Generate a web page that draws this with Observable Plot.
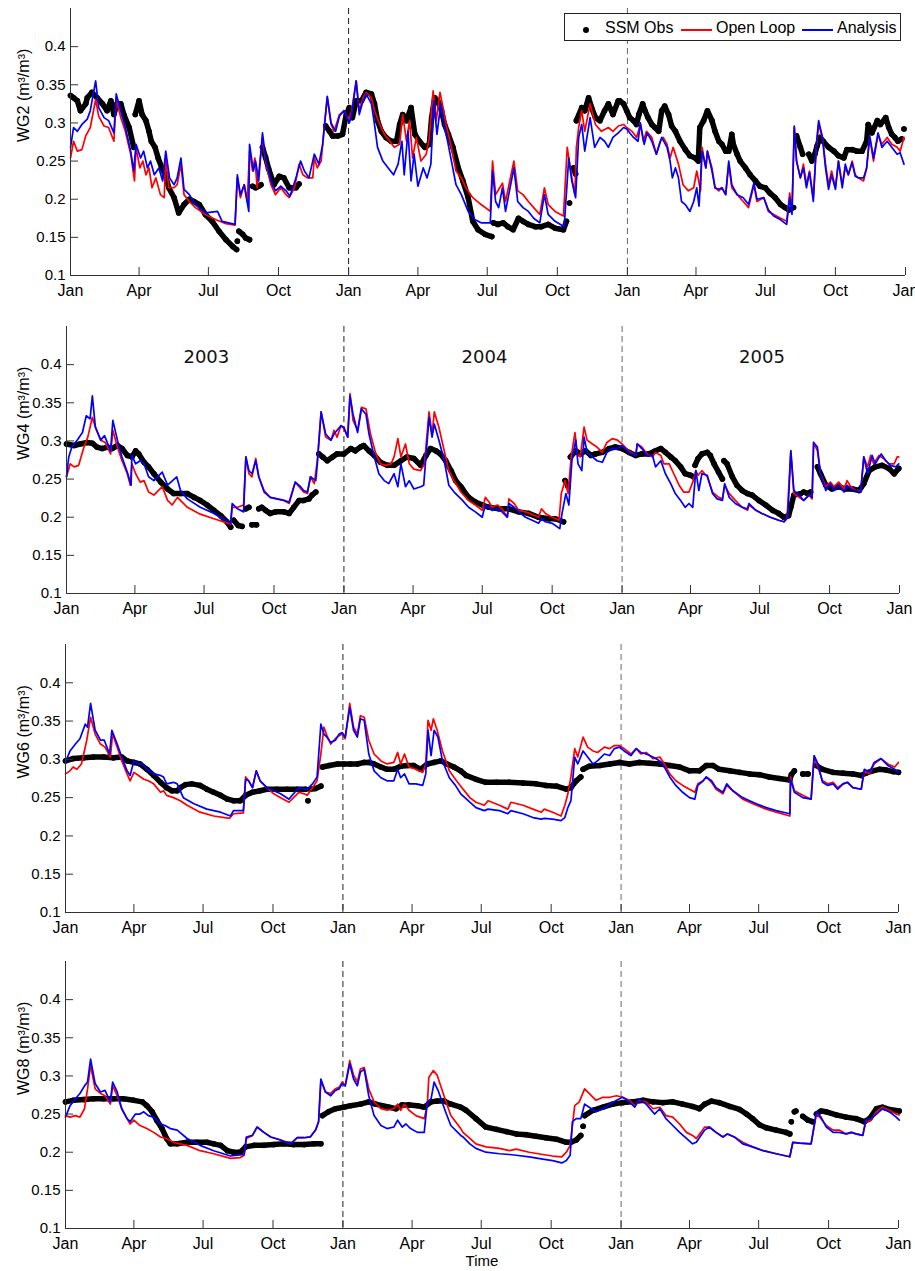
<!DOCTYPE html>
<html><head><meta charset="utf-8">
<script src="https://cdn.jsdelivr.net/npm/d3@7"></script>
<script src="https://cdn.jsdelivr.net/npm/@observablehq/plot@0.6"></script>
<style>
html,body{margin:0;padding:0;background:#fff}
body{width:915px;height:1271px;position:relative;overflow:hidden;font-family:"Liberation Sans",Arial,Helvetica,sans-serif}
.panel{position:absolute;left:0}
#legend{position:absolute;left:564px;top:13px;width:335px;height:26px;border:1px solid #222;background:#fff;font-size:16px;color:#000}
#legend .t{position:absolute;top:4px;line-height:20px;white-space:nowrap}
#legend .ln{position:absolute;top:15px;width:31px;height:2px}
#legend .dt{position:absolute;left:18px;top:13px;width:6px;height:6px;border-radius:3px;background:#000}
</style></head><body>
<div id="p1" class="panel" style="top:0px"></div>
<div id="p2" class="panel" style="top:300px"></div>
<div id="p3" class="panel" style="top:620px"></div>
<div id="p4" class="panel" style="top:945px"></div>
<div id="legend"></div>
<script>
// ---------- data: [day since 2003-01-01, volumetric soil moisture] ; null = gap ----------
const seriesNames = ["SSM Obs", "Open Loop", "Analysis"];
const seriesColors = ["#000000", "#ff0000", "#0000ff"];
const yearNames = ["2003", "2004", "2005"];
const yTickValues = [0.1, 0.15, 0.2, 0.25, 0.3, 0.35, 0.4];
const panelLabels = ["WG2 (m³/m³)", "WG4 (m³/m³)", "WG6 (m³/m³)", "WG8 (m³/m³)"];

const wg2Obs = [[0,0.336],[4,0.333],[9,0.329],[13,0.316],[20,0.325],[22,0.333],[28,0.340],[35,0.333],[42,0.325],[48,0.316],[53,0.329],[57,0.311],[61,0.325],[66,0.325],[70,0.311],[77,0.294],[83,0.268],[84,null],[85,0.311],[90,0.329],[94,0.311],[99,0.303],[103,0.289],[106,0.276],[111,0.268],[115,0.254],[120,0.241],[125,0.230],[129,0.215],[136,0.202],[142,0.182],[149,0.193],[156,0.200],[162,0.197],[169,0.193],[177,0.180],[186,0.171],[195,0.158],[204,0.147],[213,0.138],[218,0.134],[218.5,null],[219,0.145],[220,null],[221,0.158],[226,0.154],[230,0.149],[235,0.147],[237,null],[239,0.217],[243,0.215],[247,0.217],[250,0.219],[251,null],[252,0.268],[256,0.255],[260,0.240],[267,0.219],[274,0.230],[280,0.228],[287,0.215],[296,0.215],[300,0.220],[310,null],[335,0.296],[340,0.289],[344,0.283],[351,0.283],[357,0.285],[362,0.311],[366,0.320],[370,0.307],
[375,0.329],[382,0.329],[388,0.340],[395,0.338],[399,0.325],[403,0.303],[408,0.289],[414,0.281],[421,0.276],[428,0.276],[432,0.298],[436,0.311],[441,0.303],[447,0.320],[452,0.285],[458,0.276],[465,0.268],[471,0.272],[474,0.307],[478,0.333],[482,0.329],[487,0.316],[491,0.298],[496,0.285],[502,0.268],[509,0.241],[515,0.224],[522,0.202],[528,0.171],[535,0.160],[544,0.154],[553,0.151],[554,null],[555,0.169],[561,0.167],[568,0.169],[574,0.164],[581,0.160],[588,0.175],[594,0.171],[601,0.167],[610,0.164],[618,0.164],[627,0.167],[636,0.162],[647,0.160],[651,0.171],[653,null],[655,0.195],[657,null],[660,0.241],[663,0.233],[663.5,null],[664,0.303],[671,0.320],[675,0.316],[680,0.333],[684,0.320],[689,0.307],[695,0.303],[701,0.316],[706,0.325],[712,0.311],[719,0.329],
[721,0.329],[726,0.325],[730,0.316],[734,0.307],[739,0.303],[743,0.298],[746,0.311],[751,0.325],[754,0.316],[758,0.307],[763,0.298],[767,0.294],[772,0.289],[776,0.316],[780,0.322],[785,0.311],[789,0.296],[794,0.289],[800,0.276],[807,0.265],[813,0.257],[820,0.254],[824,0.250],[826,0.294],[831,0.303],[836,0.316],[842,0.303],[846,0.289],[851,0.276],[855,0.272],[860,0.263],[864,0.263],[868,0.285],[870,0.272],[875,0.259],[879,0.250],[886,0.241],[892,0.232],[899,0.224],[905,0.217],[912,0.215],[918,0.208],[925,0.202],[932,0.193],[938,0.189],[943,0.186],[949,0.189],[951,null],[953,0.283],[958,0.268],[961,0.259],[965,null],[969,0.259],[973,0.250],[977,0.259],[980,0.270],[984,0.281],[988,0.276],[995,0.268],[1002,0.263],[1008,0.257],[1015,0.254],[1019,0.265],[1026,0.265],[1032,0.263],[1039,0.263],[1045,0.276],[1047,0.298],[1052,0.287],[1059,0.303],[1063,0.298],[1070,0.307],[1074,0.294],[1078,0.285],[1082,0.281],[1086,0.276],[1091,0.279],[1092,null],[1094,0.292]];

const wg2Open = [[0,0.254],[4,0.276],[9,0.263],[15,0.265],[20,0.283],[26,0.294],[33,0.331],[37,0.309],[44,0.296],[50,0.294],[57,0.276],[60,0.331],[66,0.307],[72,0.289],[79,0.259],[84,0.224],[86,0.268],[91,0.241],[95,0.250],[99,0.232],[103,0.241],[107,0.215],[112,0.228],[118,0.206],[123,0.202],[125,0.254],[129,0.215],[136,0.215],[140,0.219],[145,0.246],[149,0.206],[156,0.197],[164,0.189],[177,0.180],[191,0.173],[204,0.168],[216,0.166],[219,0.228],[223,0.202],[228,0.219],[232,0.197],[235,0.263],[239,0.237],[242,0.254],[245,0.215],[252,0.281],[256,0.250],[263,0.219],[269,0.206],[276,0.215],[283,0.206],[287,0.202],[294,0.215],[300,0.246],[305,0.232],[311,0.228],[318,0.228],[320,0.254],[324,0.241],[329,0.250],[333,0.294],[337,0.333],[342,0.298],[346,0.289],[353,0.311],[359,0.316],[365,0.303],
[369,0.316],[375,0.355],[379,0.316],[384,0.333],[388,0.340],[395,0.333],[399,0.316],[406,0.298],[412,0.285],[419,0.276],[425,0.268],[432,0.272],[436,0.311],[441,0.276],[445,0.303],[449,0.254],[454,0.281],[460,0.250],[467,0.259],[471,0.281],[476,0.342],[480,0.303],[485,0.340],[489,0.320],[493,0.298],[500,0.268],[506,0.237],[513,0.228],[519,0.215],[528,0.202],[539,0.193],[551,0.184],[554,0.250],[558,0.206],[567,0.221],[571,0.197],[582,0.250],[587,0.211],[594,0.206],[601,0.197],[608,0.189],[616,0.180],[622,0.215],[627,0.193],[636,0.184],[647,0.178],[652,0.268],[658,0.228],[662,0.206],[664,0.268],[667,0.294],[671,0.316],[675,0.289],[682,0.325],[689,0.298],[697,0.289],[706,0.294],[712,0.289],[719,0.296],[726,0.298],
[730,0.294],[737,0.289],[743,0.281],[748,0.298],[752,0.276],[756,0.289],[763,0.281],[769,0.259],[774,0.276],[778,0.281],[783,0.272],[787,0.254],[791,0.268],[798,0.246],[804,0.219],[811,0.211],[818,0.215],[822,0.237],[827,0.211],[829,0.268],[834,0.241],[836,0.263],[842,0.241],[846,0.215],[851,0.211],[855,0.215],[860,0.206],[864,0.246],[868,0.215],[875,0.206],[883,0.197],[890,0.189],[897,0.219],[901,0.197],[910,0.202],[916,0.184],[923,0.180],[932,0.175],[940,0.171],[944,0.208],[947,0.184],[950,0.294],[953,0.250],[958,0.228],[962,0.246],[966,0.219],[970,0.237],[975,0.202],[979,0.268],[982,0.298],[987,0.281],[991,0.246],[995,0.219],[999,0.237],[1004,0.215],[1008,0.250],[1013,0.219],[1017,0.241],[1021,0.232],[1026,0.250],[1030,0.232],[1034,0.228],[1041,0.224],[1045,0.241],[1049,0.281],[1054,0.250],[1060,0.285],[1065,0.272],[1072,0.281],[1078,0.272],[1085,0.268],[1089,0.263],[1094,0.281]];

const wg2Ana = [[0,0.268],[4,0.294],[9,0.289],[15,0.298],[22,0.305],[26,0.316],[33,0.355],[37,0.320],[44,0.307],[50,0.303],[57,0.287],[60,0.338],[66,0.316],[72,0.294],[79,0.263],[83,0.237],[86,0.272],[92,0.254],[96,0.263],[101,0.241],[105,0.250],[110,0.232],[116,0.241],[121,0.224],[125,0.263],[130,0.228],[136,0.219],[140,0.228],[145,0.254],[149,0.213],[156,0.206],[164,0.193],[177,0.182],[193,0.184],[199,0.171],[216,0.167],[219,0.232],[223,0.206],[228,0.219],[234,0.184],[235,0.272],[240,0.237],[243,0.250],[247,0.224],[252,0.287],[256,0.254],[263,0.224],[269,0.211],[276,0.217],[283,0.211],[288,0.204],[296,0.228],[302,0.250],[307,0.237],[313,0.228],[320,0.259],[326,0.246],[331,0.272],[337,0.335],[342,0.300],[348,0.289],[353,0.309],[359,0.316],[366,0.300],
[369,0.311],[375,0.355],[379,0.311],[384,0.329],[388,0.338],[395,0.325],[399,0.298],[403,0.268],[410,0.250],[417,0.241],[424,0.232],[430,0.246],[435,0.276],[438,0.232],[443,0.289],[447,0.224],[451,0.259],[456,0.217],[463,0.241],[468,0.228],[473,0.246],[477,0.329],[481,0.285],[486,0.325],[490,0.298],[495,0.276],[500,0.250],[506,0.219],[513,0.206],[522,0.184],[531,0.173],[539,0.169],[551,0.169],[554,0.237],[558,0.197],[562,0.189],[567,0.215],[571,0.184],[582,0.241],[587,0.197],[594,0.189],[601,0.184],[608,0.175],[616,0.169],[622,0.206],[627,0.180],[636,0.171],[648,0.164],[654,0.254],[658,0.224],[663,0.202],[667,0.281],[671,0.298],[675,0.263],[682,0.307],[688,0.268],[695,0.281],[701,0.276],[706,0.268],[712,0.281],[719,0.287],[726,0.294],
[730,0.292],[739,0.281],[745,0.276],[748,0.300],[753,0.272],[757,0.287],[763,0.276],[769,0.259],[776,0.281],[783,0.268],[787,0.250],[790,0.228],[794,0.241],[798,0.228],[802,0.197],[807,0.193],[813,0.184],[818,0.197],[822,0.215],[825,0.191],[829,0.263],[834,0.241],[836,0.263],[842,0.237],[846,0.215],[851,0.213],[855,0.215],[860,0.206],[864,0.250],[868,0.219],[875,0.206],[883,0.202],[890,0.193],[897,0.221],[901,0.200],[910,0.202],[916,0.186],[923,0.178],[932,0.173],[940,0.167],[944,0.202],[947,0.180],[950,0.296],[953,0.250],[958,0.228],[962,0.241],[966,0.215],[970,0.235],[975,0.197],[979,0.272],[982,0.303],[987,0.281],[991,0.241],[995,0.213],[999,0.232],[1004,0.213],[1008,0.250],[1013,0.215],[1017,0.246],[1021,0.232],[1026,0.248],[1030,0.230],[1034,0.228],[1041,0.228],[1045,0.241],[1049,0.283],[1054,0.254],[1060,0.287],[1065,0.268],[1072,0.276],[1078,0.268],[1085,0.259],[1089,0.261],[1094,0.246]];

const wg4Obs = [[0,0.296],[10,0.294],[18,0.296],[27,0.298],[34,0.297],[40,0.292],[47,0.290],[54,0.292],[60,0.290],[67,0.294],[73,0.290],[80,0.281],[86,0.279],[91,0.287],[95,0.283],[102,0.272],[108,0.266],[115,0.257],[124,0.246],[133,0.237],[141,0.231],[150,0.231],[159,0.231],[168,0.226],[176,0.222],[185,0.216],[194,0.209],[203,0.202],[211,0.194],[216,0.187],[218,null],[220,0.196],[226,0.189],[231,0.188],[233,null],[236,0.211],[240,0.213],[242,null],[244,0.190],[250,0.190],[251,null],[253,0.211],[257,0.213],[262,0.209],[268,0.205],[275,0.207],[286,0.207],[293,0.205],[299,0.213],[306,0.222],[312,0.222],[319,0.224],[323,0.229],[328,0.233],[330,null],[332,0.283],[337,0.279],[343,0.274],[350,0.279],[356,0.283],[365,0.283],[374,0.290],[380,0.287],[387,0.292],[391,0.294],[398,0.287],[405,0.281],[413,0.272],[422,0.268],[431,0.268],[440,0.274],[448,0.279],[457,0.277],[466,0.268],[473,0.281],[479,0.290],[486,0.287],[492,0.283],[499,0.274],[506,0.261],[512,0.248],[519,0.240],
[521,0.237],[529,0.226],[538,0.220],[547,0.216],[556,0.213],[569,0.211],[582,0.211],[595,0.207],[608,0.205],[621,0.200],[635,0.198],[643,0.198],[654,0.194],[655,null],[656,0.248],[660,0.240],[662,null],[663,0.279],[670,0.287],[676,0.283],[683,0.287],[690,0.281],[696,0.283],[705,0.285],[714,0.290],[722,0.292],[731,0.290],[740,0.285],[749,0.281],[757,0.283],[766,0.283],[775,0.287],[782,0.290],[788,0.285],[795,0.279],[801,0.274],[808,0.266],[814,0.257],[821,0.255],[825,0.253],[826,null],[827,0.268],[831,0.277],[836,0.283],[843,0.285],[847,0.281],[852,0.270],[858,0.259],[863,0.250],[864,null],[865,0.274],[869,0.270],[876,0.253],[882,0.242],[889,0.235],[896,0.231],[902,0.229],[911,0.222],[920,0.216],[929,0.209],[937,0.205],[944,0.200],[950,0.202],[953,0.213],[957,0.229],[966,0.231],[968,null],[970,0.233],[975,0.231],[979,0.233],[984,null],[988,0.266],[992,0.257],[999,0.242],[1007,0.237],[1016,0.240],[1025,0.237],[1034,0.237],[1043,0.235],[1049,0.244],[1056,0.261],[1064,0.266],[1073,0.268],[1082,0.264],[1089,0.257],[1095,0.264]];

const wg4Open = [[0,0.253],[5,0.270],[10,0.266],[16,0.268],[23,0.292],[28,0.305],[34,0.331],[38,0.318],[45,0.301],[51,0.298],[58,0.283],[61,0.314],[67,0.292],[73,0.274],[80,0.257],[84,0.242],[86,0.270],[91,0.257],[97,0.246],[102,0.248],[108,0.233],[115,0.229],[126,0.240],[133,0.222],[139,0.216],[146,0.226],[159,0.213],[176,0.204],[194,0.198],[216,0.191],[218,0.213],[225,0.213],[233,0.216],[236,0.279],[240,0.257],[244,0.253],[249,0.277],[253,0.253],[260,0.235],[268,0.226],[277,0.224],[286,0.222],[293,0.218],[301,0.246],[306,0.240],[312,0.233],[317,0.231],[321,0.253],[326,0.244],[330,0.274],[335,0.338],[341,0.305],[348,0.301],[352,0.314],[356,0.305],[361,0.320],[365,0.316],[370,0.305],[373,0.362],[377,0.327],[383,0.314],[388,0.344],[394,0.342],[400,0.309],[407,0.283],[413,0.270],[420,0.268],[427,0.270],[431,0.279],[436,0.303],[440,0.279],[446,0.296],[451,0.270],[457,0.263],[466,0.261],[471,0.270],[477,0.338],[481,0.309],[484,0.338],[490,0.318],[497,0.287],[503,0.261],[510,0.248],[519,0.233],
[529,0.222],[538,0.216],[547,0.209],[551,0.226],[556,0.220],[560,0.213],[567,0.216],[573,0.211],[580,0.200],[582,0.224],[589,0.218],[595,0.209],[604,0.207],[617,0.202],[621,0.200],[625,0.211],[630,0.205],[639,0.200],[648,0.196],[651,0.231],[656,0.248],[660,0.231],[664,0.279],[669,0.311],[672,0.283],[676,0.279],[681,0.318],[685,0.301],[692,0.296],[698,0.292],[705,0.285],[711,0.298],[718,0.303],[725,0.301],[731,0.296],[740,0.287],[749,0.281],[751,0.296],[757,0.292],[764,0.283],[771,0.279],[775,0.285],[782,0.281],[786,0.270],[793,0.270],[799,0.257],[806,0.242],[812,0.233],[819,0.233],[824,0.246],[828,0.261],[831,0.255],[836,0.261],[843,0.253],[850,0.233],[858,0.226],[863,0.224],[866,0.242],[872,0.231],[880,0.222],[889,0.213],[896,0.209],[898,0.216],[907,0.209],[915,0.205],[926,0.200],[937,0.196],[944,0.194],[948,0.198],[953,0.287],[957,0.231],[964,0.226],[970,0.222],[977,0.229],[981,0.224],[983,0.298],[988,0.287],[992,0.257],[999,0.240],[1005,0.246],[1010,0.240],[1016,0.246],[1023,0.237],[1027,0.248],[1032,0.240],[1038,0.235],[1045,0.235],[1049,0.279],[1054,0.266],[1058,0.281],[1062,0.270],[1069,0.281],[1075,0.277],[1082,0.270],[1089,0.270],[1093,0.279],[1095,0.279]];

const wg4Ana = [[0,0.253],[3,0.279],[7,0.292],[14,0.301],[21,0.311],[26,0.333],[31,0.329],[34,0.359],[38,0.318],[45,0.301],[50,0.307],[58,0.287],[61,0.327],[67,0.301],[73,0.279],[80,0.259],[85,0.242],[86,0.281],[91,0.270],[97,0.274],[102,0.270],[108,0.253],[115,0.248],[126,0.259],[133,0.242],[145,0.253],[150,0.235],[159,0.224],[176,0.213],[194,0.205],[216,0.192],[218,0.218],[225,0.211],[233,0.207],[236,0.279],[240,0.261],[244,0.257],[249,0.274],[253,0.253],[260,0.233],[268,0.226],[277,0.224],[286,0.222],[293,0.220],[301,0.246],[308,0.240],[312,0.235],[317,0.233],[321,0.253],[328,0.248],[330,0.270],[335,0.338],[341,0.309],[348,0.301],[352,0.309],[356,0.314],[361,0.320],[365,0.318],[370,0.305],[373,0.359],[377,0.335],[383,0.311],[388,0.342],[394,0.335],[398,0.309],[405,0.279],[411,0.257],[418,0.248],[424,0.244],[431,0.257],[436,0.240],[440,0.270],[446,0.240],[451,0.248],[457,0.237],[466,0.240],[470,0.242],[477,0.331],[481,0.305],[484,0.322],[490,0.301],[497,0.274],[503,0.242],[510,0.233],
[521,0.222],[529,0.213],[538,0.207],[547,0.200],[551,0.216],[556,0.213],[560,0.209],[567,0.211],[573,0.207],[580,0.200],[582,0.218],[589,0.213],[595,0.207],[604,0.200],[617,0.194],[621,0.192],[625,0.198],[630,0.194],[639,0.192],[649,0.185],[652,0.205],[657,0.231],[661,0.216],[665,0.274],[670,0.301],[673,0.270],[678,0.261],[681,0.305],[685,0.285],[692,0.279],[698,0.274],[705,0.272],[711,0.285],[718,0.290],[725,0.290],[731,0.294],[740,0.285],[749,0.281],[751,0.296],[757,0.290],[764,0.281],[771,0.281],[775,0.266],[782,0.274],[788,0.257],[795,0.244],[801,0.231],[808,0.222],[814,0.213],[819,0.218],[824,0.213],[828,0.261],[832,0.235],[836,0.257],[843,0.255],[850,0.231],[856,0.224],[863,0.222],[866,0.244],[872,0.226],[880,0.218],[889,0.213],[896,0.211],[898,0.218],[907,0.209],[915,0.205],[926,0.200],[937,0.196],[944,0.194],[949,0.200],[953,0.287],[957,0.235],[964,0.229],[970,0.222],[977,0.229],[981,0.226],[983,0.298],[988,0.292],[992,0.257],[999,0.235],[1005,0.244],[1010,0.235],[1016,0.242],[1023,0.233],[1027,0.242],[1032,0.237],[1038,0.235],[1045,0.233],[1049,0.279],[1054,0.257],[1060,0.281],[1064,0.270],[1072,0.283],[1078,0.274],[1084,0.268],[1091,0.266],[1095,0.270]];

const wg6Obs = [[0,0.298],[10,0.301],[24,0.302],[37,0.303],[50,0.303],[63,0.302],[74,0.303],[81,0.298],[90,0.296],[98,0.294],[107,0.287],[116,0.279],[125,0.270],[133,0.263],[140,0.259],[147,0.259],[151,0.263],[158,0.267],[166,0.268],[177,0.266],[186,0.261],[195,0.257],[204,0.253],[213,0.248],[221,0.246],[230,0.246],[237,0.253],[246,0.257],[256,0.259],[265,0.261],[278,0.261],[292,0.261],[305,0.261],[316,0.261],[317,null],[319,0.246],[320,null],[322,0.261],[329,0.262],[336,0.265],[337,null],[338,0.290],[347,0.292],[358,0.294],[366,0.294],[375,0.294],[384,0.294],[393,0.296],[399,0.296],[406,0.294],[415,0.290],[423,0.287],[432,0.287],[441,0.291],[450,0.292],[458,0.292],[467,0.287],[476,0.294],[485,0.296],[494,0.298],[502,0.294],[511,0.290],[520,0.285],
[527,0.279],[540,0.274],[553,0.270],[567,0.270],[584,0.270],[602,0.269],[619,0.268],[632,0.266],[646,0.265],[659,0.261],[665,0.263],[672,0.272],[678,0.277],[679,null],[681,0.287],[689,0.291],[703,0.292],[716,0.294],[729,0.296],[742,0.294],[755,0.296],[768,0.295],[782,0.294],[795,0.292],[808,0.290],[821,0.285],[834,0.285],[843,0.292],[852,0.292],[860,0.287],[874,0.285],[887,0.283],[900,0.281],[913,0.280],[926,0.277],[939,0.275],[953,0.273],[955,0.280],[959,0.285],[962,null],[970,0.281],[977,0.281],[982,null],[988,0.292],[996,0.287],[1010,0.283],[1023,0.282],[1036,0.281],[1047,0.279],[1053,0.282],[1062,0.285],[1071,0.287],[1080,0.286],[1089,0.284],[1096,0.283]];

const wg6Open = [[0,0.281],[6,0.285],[10,0.290],[15,0.287],[21,0.294],[28,0.325],[33,0.355],[39,0.333],[46,0.320],[52,0.316],[59,0.303],[62,0.333],[68,0.316],[74,0.298],[81,0.281],[85,0.272],[90,0.283],[96,0.279],[103,0.274],[109,0.272],[116,0.268],[125,0.257],[129,0.259],[133,0.253],[142,0.250],[151,0.246],[160,0.240],[177,0.231],[195,0.226],[216,0.223],[221,0.229],[234,0.230],[237,0.277],[241,0.272],[246,0.263],[251,0.285],[256,0.272],[265,0.263],[274,0.255],[283,0.250],[294,0.244],[300,0.250],[307,0.257],[314,0.255],[318,0.253],[325,0.263],[331,0.272],[336,0.307],[340,0.342],[344,0.331],[349,0.320],[355,0.327],[360,0.331],[364,0.333],[368,0.327],[374,0.373],[379,0.342],[384,0.333],[388,0.357],[393,0.355],[399,0.325],[406,0.307],[415,0.298],[423,0.294],[432,0.296],[437,0.309],[441,0.294],[446,0.307],[452,0.290],[461,0.287],[470,0.283],[474,0.294],[477,0.351],[481,0.338],[484,0.353],[489,0.338],[496,0.311],[505,0.285],[513,0.274],[520,0.265],
[532,0.250],[540,0.244],[551,0.240],[556,0.246],[571,0.240],[582,0.235],[586,0.244],[602,0.240],[615,0.235],[626,0.231],[630,0.235],[641,0.231],[652,0.226],[657,0.240],[661,0.255],[665,0.277],[670,0.314],[674,0.303],[681,0.329],[687,0.316],[694,0.311],[700,0.309],[709,0.316],[716,0.314],[722,0.318],[729,0.318],[735,0.314],[744,0.307],[751,0.314],[757,0.307],[764,0.309],[773,0.301],[782,0.303],[788,0.294],[795,0.281],[803,0.272],[812,0.266],[821,0.261],[828,0.257],[832,0.268],[839,0.272],[843,0.277],[850,0.270],[856,0.261],[865,0.255],[870,0.266],[878,0.259],[891,0.248],[900,0.244],[909,0.240],[922,0.235],[935,0.231],[953,0.226],[954,0.277],[959,0.259],[970,0.253],[981,0.248],[985,0.303],[990,0.290],[996,0.272],[1003,0.268],[1010,0.270],[1016,0.263],[1023,0.268],[1029,0.270],[1036,0.263],[1047,0.261],[1051,0.285],[1058,0.281],[1064,0.294],[1073,0.301],[1082,0.294],[1091,0.290],[1096,0.296]];

const wg6Ana = [[0,0.296],[6,0.311],[13,0.320],[19,0.327],[26,0.346],[29,0.342],[33,0.373],[39,0.338],[46,0.325],[51,0.325],[58,0.307],[61,0.338],[68,0.320],[74,0.303],[81,0.285],[85,0.279],[90,0.298],[96,0.294],[101,0.294],[107,0.287],[116,0.281],[125,0.279],[129,0.277],[133,0.268],[142,0.270],[147,0.268],[155,0.250],[169,0.242],[186,0.235],[204,0.231],[217,0.226],[221,0.233],[234,0.233],[237,0.274],[241,0.272],[246,0.263],[251,0.285],[256,0.272],[265,0.263],[274,0.259],[283,0.255],[294,0.248],[300,0.255],[307,0.263],[314,0.261],[318,0.261],[325,0.268],[331,0.277],[336,0.346],[340,0.333],[344,0.329],[349,0.322],[355,0.325],[360,0.333],[364,0.335],[368,0.329],[374,0.368],[379,0.338],[384,0.329],[388,0.353],[393,0.351],[399,0.307],[406,0.285],[415,0.276],[423,0.272],[432,0.272],[437,0.287],[441,0.276],[446,0.281],[452,0.268],[461,0.268],[470,0.266],[474,0.281],[477,0.338],[481,0.305],[485,0.338],[490,0.329],[496,0.298],[505,0.276],[513,0.266],[520,0.255],
[532,0.244],[540,0.237],[551,0.233],[556,0.235],[571,0.233],[582,0.229],[586,0.233],[602,0.229],[615,0.224],[626,0.222],[630,0.223],[641,0.222],[652,0.220],[657,0.224],[661,0.237],[665,0.246],[670,0.303],[674,0.294],[681,0.311],[687,0.303],[694,0.294],[700,0.298],[709,0.307],[716,0.305],[722,0.314],[729,0.316],[735,0.311],[744,0.305],[751,0.314],[757,0.309],[764,0.307],[773,0.303],[782,0.298],[788,0.290],[795,0.277],[803,0.266],[812,0.257],[821,0.250],[828,0.248],[832,0.266],[839,0.272],[843,0.277],[850,0.272],[856,0.263],[865,0.257],[870,0.268],[878,0.259],[891,0.250],[900,0.246],[909,0.242],[922,0.237],[935,0.233],[953,0.229],[954,0.274],[959,0.257],[970,0.250],[981,0.248],[985,0.305],[990,0.294],[996,0.270],[1003,0.266],[1010,0.268],[1016,0.261],[1023,0.268],[1029,0.270],[1036,0.263],[1047,0.261],[1051,0.287],[1058,0.283],[1064,0.296],[1073,0.301],[1082,0.292],[1091,0.287],[1096,0.283]];

const wg8Obs = [[0,0.266],[10,0.268],[24,0.269],[37,0.270],[50,0.270],[63,0.270],[76,0.270],[90,0.268],[101,0.266],[107,0.261],[114,0.253],[120,0.242],[127,0.231],[133,0.218],[138,0.211],[147,0.211],[160,0.213],[173,0.213],[186,0.213],[195,0.211],[204,0.209],[213,0.202],[221,0.200],[230,0.200],[237,0.207],[248,0.209],[261,0.209],[274,0.210],[287,0.211],[300,0.210],[314,0.210],[327,0.211],[336,0.211],[337,null],[338,0.248],[346,0.253],[355,0.257],[366,0.259],[375,0.261],[388,0.263],[399,0.266],[408,0.263],[417,0.261],[426,0.259],[435,0.257],[443,0.262],[452,0.262],[463,0.261],[472,0.259],[481,0.266],[489,0.267],[498,0.267],[507,0.263],[520,0.259],
[527,0.255],[540,0.244],[553,0.233],[567,0.230],[580,0.227],[593,0.224],[606,0.223],[619,0.221],[632,0.219],[646,0.217],[659,0.213],[665,0.213],[672,0.216],[678,0.222],[679,null],[681,0.234],[682,null],[683,0.248],[694,0.255],[707,0.259],[720,0.263],[733,0.265],[746,0.266],[760,0.268],[773,0.266],[786,0.265],[799,0.266],[812,0.263],[825,0.260],[834,0.257],[841,0.263],[850,0.267],[860,0.265],[874,0.260],[887,0.256],[896,0.250],[904,0.244],[913,0.236],[922,0.232],[935,0.229],[948,0.226],[953,0.224],[954,null],[955,0.240],[956,null],[959,0.253],[961,0.254],[963,null],[970,0.247],[977,0.242],[983,0.240],[985,null],[988,0.250],[994,0.254],[1001,0.253],[1014,0.249],[1027,0.246],[1040,0.244],[1051,0.240],[1058,0.244],[1067,0.257],[1075,0.259],[1084,0.256],[1097,0.254]];

const wg8Open = [[0,0.248],[6,0.246],[13,0.248],[19,0.246],[25,0.257],[29,0.283],[33,0.314],[39,0.283],[46,0.277],[52,0.274],[59,0.263],[62,0.287],[68,0.274],[74,0.257],[81,0.244],[85,0.237],[90,0.242],[98,0.235],[107,0.231],[116,0.226],[125,0.220],[133,0.218],[142,0.213],[160,0.209],[177,0.202],[195,0.198],[217,0.192],[230,0.193],[235,0.196],[238,0.218],[246,0.222],[252,0.233],[261,0.226],[270,0.220],[283,0.216],[296,0.211],[305,0.219],[314,0.219],[322,0.220],[329,0.229],[333,0.240],[336,0.294],[342,0.279],[349,0.277],[355,0.283],[360,0.285],[364,0.292],[368,0.287],[374,0.320],[379,0.301],[384,0.292],[388,0.309],[393,0.311],[399,0.283],[406,0.266],[415,0.257],[423,0.255],[432,0.257],[437,0.263],[441,0.255],[446,0.263],[452,0.255],[461,0.248],[472,0.244],[476,0.261],[478,0.298],[484,0.307],[489,0.301],[498,0.274],[507,0.248],[520,0.231],
[523,0.226],[532,0.218],[540,0.211],[553,0.207],[571,0.205],[584,0.202],[593,0.204],[610,0.200],[628,0.197],[641,0.195],[653,0.194],[659,0.200],[664,0.209],[670,0.261],[676,0.266],[683,0.283],[689,0.277],[698,0.268],[707,0.272],[716,0.272],[725,0.274],[733,0.272],[742,0.268],[749,0.261],[755,0.268],[764,0.266],[773,0.257],[782,0.259],[790,0.248],[799,0.246],[808,0.237],[817,0.226],[825,0.222],[830,0.218],[836,0.226],[841,0.233],[847,0.233],[856,0.226],[865,0.220],[871,0.224],[880,0.220],[891,0.213],[904,0.207],[918,0.202],[935,0.198],[953,0.194],[957,0.213],[966,0.212],[981,0.211],[988,0.250],[994,0.244],[1001,0.235],[1010,0.229],[1018,0.229],[1027,0.224],[1034,0.226],[1040,0.224],[1049,0.222],[1053,0.240],[1060,0.242],[1067,0.253],[1075,0.259],[1084,0.255],[1093,0.250],[1097,0.249]];

const wg8Ana = [[0,0.246],[6,0.261],[13,0.270],[19,0.277],[25,0.287],[29,0.292],[33,0.322],[39,0.290],[46,0.279],[52,0.281],[59,0.266],[62,0.292],[68,0.279],[74,0.257],[81,0.244],[85,0.240],[92,0.250],[98,0.250],[103,0.253],[109,0.248],[116,0.246],[125,0.237],[131,0.235],[138,0.231],[147,0.229],[160,0.218],[177,0.209],[195,0.202],[217,0.195],[235,0.197],[238,0.220],[246,0.222],[252,0.233],[261,0.226],[270,0.220],[283,0.216],[296,0.211],[305,0.219],[314,0.219],[322,0.220],[329,0.229],[333,0.240],[336,0.296],[342,0.279],[349,0.274],[355,0.281],[360,0.283],[364,0.290],[368,0.287],[374,0.316],[379,0.296],[384,0.287],[388,0.305],[393,0.309],[399,0.274],[406,0.248],[415,0.235],[423,0.231],[432,0.233],[437,0.242],[443,0.233],[448,0.237],[454,0.231],[463,0.226],[472,0.226],[476,0.266],[481,0.270],[485,0.292],[491,0.279],[500,0.253],[507,0.235],[520,0.222],
[523,0.220],[532,0.211],[540,0.205],[553,0.200],[571,0.198],[584,0.197],[593,0.196],[610,0.194],[628,0.191],[641,0.189],[653,0.186],[659,0.189],[664,0.196],[667,0.240],[672,0.244],[678,0.244],[683,0.263],[689,0.259],[698,0.253],[707,0.257],[716,0.263],[725,0.268],[733,0.272],[742,0.266],[749,0.259],[755,0.270],[764,0.263],[775,0.250],[782,0.257],[790,0.244],[799,0.235],[808,0.226],[817,0.218],[825,0.211],[830,0.213],[836,0.222],[841,0.229],[847,0.233],[856,0.226],[865,0.220],[871,0.224],[880,0.220],[891,0.211],[904,0.207],[918,0.202],[935,0.198],[953,0.194],[957,0.213],[966,0.212],[981,0.211],[988,0.253],[994,0.246],[1001,0.233],[1010,0.226],[1018,0.226],[1027,0.224],[1034,0.226],[1040,0.224],[1049,0.222],[1053,0.242],[1060,0.244],[1067,0.250],[1075,0.257],[1084,0.253],[1093,0.246],[1097,0.242]];

// ---------- helpers ----------
const T0 = Date.UTC(2003, 0, 1), DAY = 864e5;
const toRows = arr => arr.map(([d, v]) => ({date: new Date(T0 + d * DAY), value: v}));
const xStart = new Date(T0), xEnd = new Date(Date.UTC(2006, 0, 1));
const xTicks = d3.utcMonth.every(3).range(xStart, new Date(Date.UTC(2006, 0, 2)));
const yearStarts = [new Date(Date.UTC(2004, 0, 1)), new Date(Date.UTC(2005, 0, 1))];
const FONT = "'Liberation Sans', Arial, Helvetica, sans-serif";

function makePanel(cfg) {
  const {obs, open, ana, label, height, mt, mb, ml, mr, years, time} = cfg;
  const fw = 915 - ml - mr, fh = height - mt - mb;
  const O = toRows(obs), R = toRows(open), B = toRows(ana);
  const marks = [
    Plot.ruleX([yearStarts[0]], {stroke: "#222", strokeWidth: 1, strokeDasharray: "6,4"}),
    Plot.ruleX([yearStarts[1]], {stroke: "#666", strokeWidth: 1, strokeDasharray: "6,4"}),
    Plot.line(O, {x: "date", y: "value", stroke: seriesColors[0], strokeWidth: 5.5, strokeLinecap: "round", strokeLinejoin: "round"}),
    Plot.dot(O, {x: "date", y: "value", r: 2.8, fill: seriesColors[0]}),
    Plot.line(R, {x: "date", y: "value", stroke: seriesColors[1], strokeWidth: 1.7}),
    Plot.line(B, {x: "date", y: "value", stroke: seriesColors[2], strokeWidth: 1.7}),
    Plot.ruleX([xStart], {stroke: "#333"}),
    Plot.ruleY([0.1], {stroke: "#333"}),
    Plot.ruleX(xTicks, {insetTop: fh - 8, stroke: "#333"}),
    Plot.ruleY(yTickValues.slice(1), {insetRight: fw - 8, stroke: "#333"}),
    Plot.axisX({ticks: xTicks, tickSize: 0, tickPadding: 9, tickFormat: d3.utcFormat("%b"), label: null, fontSize: 16}),
    Plot.axisY({ticks: yTickValues, tickSize: 0, tickPadding: 5, tickFormat: d => String(d), label: null, fontSize: 15}),
    Plot.text([label], {frameAnchor: "left", dx: -(ml - 23), rotate: -90, text: d => d, fontSize: 16})
  ];
  if (years) {
    const yl = yearNames.map((n, i) => ({date: new Date(Date.UTC(2003 + i, 6, 4)), value: 0.41, label: n}));
    marks.push(Plot.text(yl, {x: "date", y: "value", text: "label", fontSize: 18, fill: "#111", fontFamily: "'DejaVu Sans', sans-serif"}));
  }
  if (time) marks.push(Plot.text(["Time"], {frameAnchor: "bottom", dy: 37, text: d => d, fontSize: 15}));
  return Plot.plot({
    width: 915, height,
    marginTop: mt, marginBottom: mb, marginLeft: ml, marginRight: mr,
    style: {fontFamily: FONT, fontSize: "16px", background: "#fff", color: "#000"},
    x: {type: "utc", domain: [xStart, xEnd]},
    y: {domain: [0.1, 0.45]},
    marks
  });
}

document.getElementById("p1").append(makePanel({obs: wg2Obs, open: wg2Open, ana: wg2Ana, label: panelLabels[0], height: 300, mt: 8, mb: 25, ml: 70, mr: 10}));
document.getElementById("p2").append(makePanel({obs: wg4Obs, open: wg4Open, ana: wg4Ana, label: panelLabels[1], height: 320, mt: 26, mb: 27, ml: 66, mr: 16, years: true}));
document.getElementById("p3").append(makePanel({obs: wg6Obs, open: wg6Open, ana: wg6Ana, label: panelLabels[2], height: 325, mt: 24, mb: 33, ml: 65, mr: 17}));
document.getElementById("p4").append(makePanel({obs: wg8Obs, open: wg8Open, ana: wg8Ana, label: panelLabels[3], height: 326, mt: 16, mb: 43, ml: 65, mr: 17, time: true}));

// ---------- legend ----------
const lg = document.getElementById("legend");
lg.innerHTML =
  `<div class="dt"></div>` +
  `<span class="t" style="left:40px">${seriesNames[0]}</span>` +
  `<div class="ln" style="left:116px;background:${seriesColors[1]}"></div>` +
  `<span class="t" style="left:151px">${seriesNames[1]}</span>` +
  `<div class="ln" style="left:237px;background:${seriesColors[2]}"></div>` +
  `<span class="t" style="left:272px">${seriesNames[2]}</span>`;
</script>
</body></html>
